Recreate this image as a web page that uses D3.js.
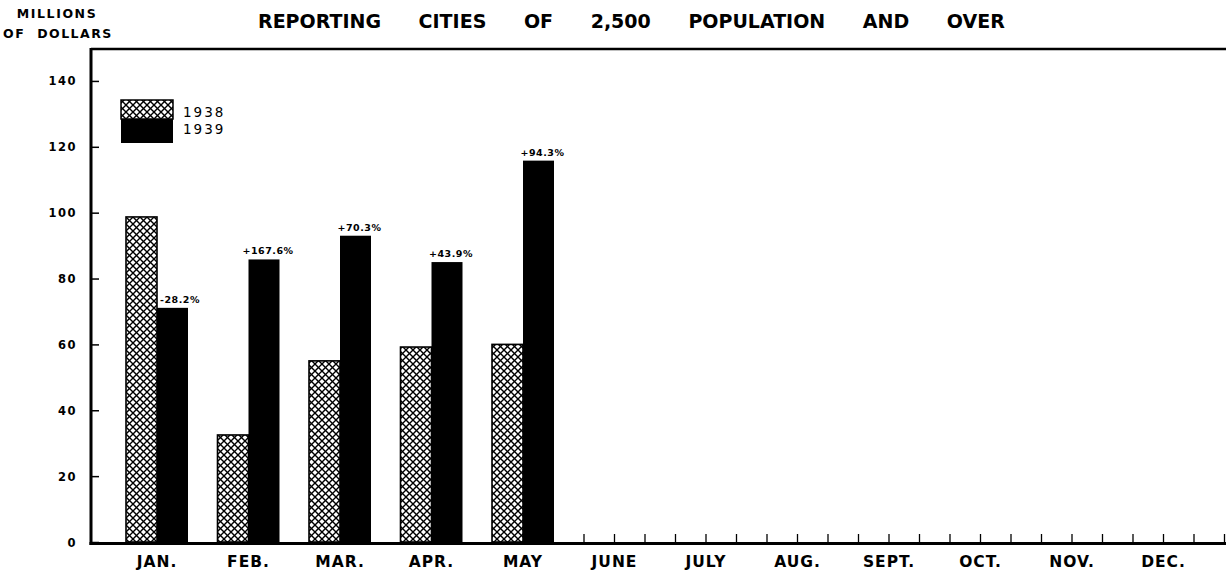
<!DOCTYPE html>
<html>
<head>
<meta charset="utf-8">
<script src="https://cdn.jsdelivr.net/npm/d3@7"></script>
<style>
  html, body { margin: 0; padding: 0; background: #fff; }
  svg { display: block; }
  text { font-family: "DejaVu Sans", "Liberation Sans", sans-serif; font-weight: bold; fill: #000; }
</style>
</head>
<body>
<svg id="chart" width="1226" height="572"></svg>
<script>
// ---- data ----
const months = ["JAN.", "FEB.", "MAR.", "APR.", "MAY", "JUNE", "JULY", "AUG.", "SEPT.", "OCT.", "NOV.", "DEC."];
const series = ["1938", "1939"];
const values1938 = [98.7, 32.5, 55.0, 59.2, 60.0];
const values1939 = [71.1, 85.8, 93.0, 85.0, 115.8];
const changeLabels = ["-28.2%", "+167.6%", "+70.3%", "+43.9%", "+94.3%"];
const yTicks = [0, 20, 40, 60, 80, 100, 120, 140];
const titleText = "REPORTING CITIES OF 2,500 POPULATION AND OVER";
const yLabelLines = ["MILLIONS", "OF DOLLARS"];

// ---- layout ----
const plotLeft = 91, plotTop = 48, plotBottom = 542, plotRight = 1226;
const svg = d3.select("#chart");

const defs = svg.append("defs");
const pat = defs.append("pattern")
  .attr("id", "hatch").attr("patternUnits", "userSpaceOnUse")
  .attr("width", 7).attr("height", 7);
pat.append("rect").attr("width", 7).attr("height", 7).attr("fill", "#fff");
pat.append("path").attr("d", "M-1,1 L1,-1 M0,7 L7,0 M6,8 L8,6")
  .attr("stroke", "#000").attr("stroke-width", 1.4);
pat.append("path").attr("d", "M-1,6 L1,8 M0,0 L7,7 M6,-1 L8,1")
  .attr("stroke", "#000").attr("stroke-width", 1.4);

const x = d3.scaleBand().domain(months).range([111.25, 1209.25]).padding(0);
const xi = d3.scaleLinear().domain([0, 11]).range([x(months[0]) + x.bandwidth() / 2, x(months[11]) + x.bandwidth() / 2]);
const y = d3.scaleLinear().domain([0, 150]).range([plotBottom, plotTop]);
const barW = 31;

// title
svg.append("text").attr("x", 258).attr("y", 28)
  .style("font-size", "19px")
  .style("letter-spacing", "0px").style("word-spacing", "31px")
  .text(titleText);

// y axis label
svg.append("text").attr("x", 57).attr("y", 18).attr("text-anchor", "middle")
  .style("font-size", "12.5px").style("letter-spacing", "1.6px")
  .text(yLabelLines[0]);
svg.append("text").attr("x", 58).attr("y", 38).attr("text-anchor", "middle")
  .style("font-size", "12.5px").style("letter-spacing", "1.5px").style("word-spacing", "6px")
  .text(yLabelLines[1]);

// y axis
const yAxis = d3.axisLeft(y).tickValues(yTicks).tickSize(-8).tickPadding(14).tickFormat(d3.format("d"));
const gy = svg.append("g").attr("transform", `translate(${plotLeft},0)`).call(yAxis);
gy.select(".domain").remove();
gy.selectAll(".tick line").attr("stroke", "#000").attr("stroke-width", 1.5);
gy.selectAll(".tick text").style("font-size", "11.5px").style("letter-spacing", "1.5px")
  .style("font-family", "\"DejaVu Sans\", sans-serif").style("font-weight", "bold").attr("dy", "0.35em");

// x axis labels
const xAxis = d3.axisBottom(x).tickSize(0).tickPadding(0);
const gx = svg.append("g").attr("transform", `translate(0,${plotBottom})`).call(xAxis);
gx.select(".domain").remove();
gx.selectAll(".tick text").attr("y", 25).attr("dy", 0)
  .style("font-size", "15.5px").style("letter-spacing", "1px")
  .style("font-family", "\"DejaVu Sans\", sans-serif").style("font-weight", "bold");

// minor ticks on x axis
const minor = d3.range(14, 36).map(k => k / 3);
svg.append("g").selectAll("line").data(minor).join("line")
  .attr("x1", d => xi(d)).attr("x2", d => xi(d))
  .attr("y1", plotBottom - 8).attr("y2", plotBottom)
  .attr("stroke", "#000").attr("stroke-width", 1.3);

// bars
const data = values1938.map((v, i) => ({ m: months[i], a: v, b: values1939[i], lab: changeLabels[i] }));
const center = d => x(d.m) + x.bandwidth() / 2;

svg.append("g").selectAll("rect").data(data).join("rect")
  .attr("x", d => center(d) - barW).attr("width", barW)
  .attr("y", d => y(d.a)).attr("height", d => y(0) - y(d.a))
  .attr("fill", "url(#hatch)").attr("stroke", "#000").attr("stroke-width", 1.6);

svg.append("g").selectAll("rect").data(data).join("rect")
  .attr("x", d => center(d)).attr("width", barW)
  .attr("y", d => y(d.b)).attr("height", d => y(0) - y(d.b))
  .attr("fill", "#000");

// change labels
svg.append("g").selectAll("text").data(data).join("text")
  .attr("x", d => d.lab.startsWith("-") ? center(d) + 3 : center(d) + barW / 2 + 4)
  .attr("text-anchor", d => d.lab.startsWith("-") ? "start" : "middle")
  .attr("y", d => y(d.b) - 5)
  .style("font-size", "9.5px").style("letter-spacing", "0.5px")
  .text(d => d.lab);

// frame lines
svg.append("line").attr("x1", plotLeft).attr("x2", plotRight).attr("y1", plotTop + 1).attr("y2", plotTop + 1)
  .attr("stroke", "#000").attr("stroke-width", 2.5);
svg.append("line").attr("x1", plotLeft).attr("x2", plotLeft).attr("y1", plotTop).attr("y2", plotBottom + 3)
  .attr("stroke", "#000").attr("stroke-width", 3);
svg.append("line").attr("x1", plotLeft - 1.5).attr("x2", plotRight).attr("y1", plotBottom + 1.5).attr("y2", plotBottom + 1.5)
  .attr("stroke", "#000").attr("stroke-width", 3);

// legend
const lg = svg.append("g");
const lx = 121, ly = 100, lw = 52;
lg.append("rect").attr("x", lx).attr("y", ly).attr("width", lw).attr("height", 19)
  .attr("fill", "url(#hatch)").attr("stroke", "#000").attr("stroke-width", 1.5);
lg.append("rect").attr("x", lx).attr("y", ly + 19).attr("width", lw).attr("height", 24).attr("fill", "#000");
lg.selectAll("text.lt").data(series).join("text").attr("class", "lt")
  .attr("x", 183).attr("y", (d, i) => 117 + i * 17)
  .style("font-size", "13.5px").style("letter-spacing", "2px").style("font-weight", "normal")
  .text(d => d);
</script>
</body>
</html>
